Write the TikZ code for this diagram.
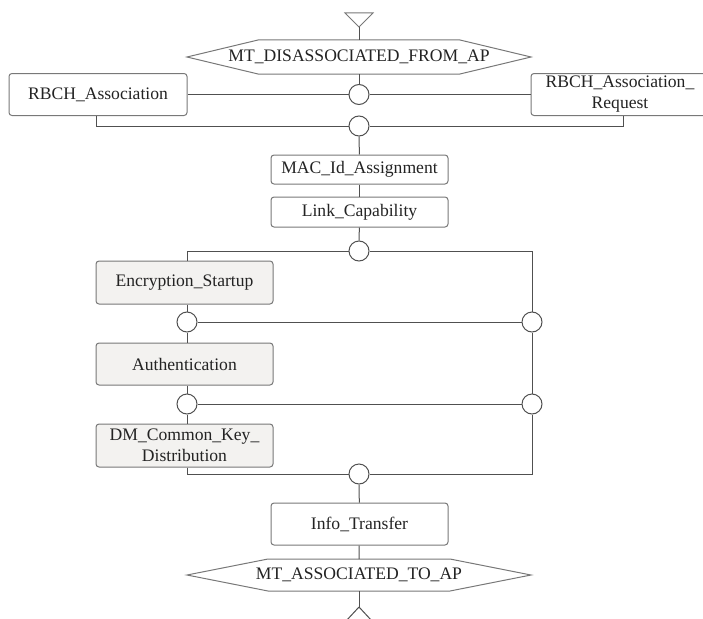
\documentclass[tikz,border=0pt]{standalone}
\usepackage{fontspec}
\setmainfont{Liberation Serif}
\definecolor{linecol}{RGB}{80,80,80}
\definecolor{boxcol}{RGB}{120,120,120}
\definecolor{fillcol}{RGB}{243,242,240}
\definecolor{txtcol}{RGB}{35,35,35}
\newcommand{\fsz}{\fontsize{17.6}{21}\selectfont}
\begin{document}
\begin{tikzpicture}[x=1pt,y=-1pt,
  box/.style={draw=boxcol, rounded corners=3pt, line width=1pt, minimum width=177pt,
    inner sep=0pt, font=\fsz, text=txtcol, align=center},
  gbox/.style={box, fill=fillcol},
  junc/.style={circle, draw=linecol, fill=white, minimum size=20pt, inner sep=0pt, line width=1pt},
  conn/.style={draw=linecol, line width=1pt},
  outl/.style={draw=boxcol, line width=1pt},
  lbl/.style={font=\fsz, text=txtcol, inner sep=0pt}]
\useasboundingbox (0,0) rectangle (703,618);
\clip (0,0) rectangle (703,618);

% start symbol
\coordinate (t1) at (345,13);
\coordinate (t2) at (373,13);
\coordinate (ta) at (359,27);
\draw[outl] (t1) -- (t2) -- (ta) -- cycle;

% hexagon 1
\node[lbl] (h1) at (359,57) {MT\_DISASSOCIATED\_FROM\_AP};
\draw[outl] ([shift={(-172,0)}]h1.center) -- ([shift={(-101,-17)}]h1.center) -- ([shift={(101,-17)}]h1.center)
  -- ([shift={(172,0)}]h1.center) -- ([shift={(101,17)}]h1.center) -- ([shift={(-101,17)}]h1.center) -- cycle;
\coordinate (h1t) at (359,40);
\coordinate (h1b) at (359,74);

% boxes
\node[box, minimum width=178pt, minimum height=42pt] (ra) at (98,94.5) {RBCH\_Association};
\node[box, minimum width=178pt, minimum height=42pt] (rr) at (620,94.5) {RBCH\_Association\_\\Request};
\node[box, minimum height=29pt] (mac) at (359.5,169.5) {MAC\_Id\_Assignment};
\node[box, minimum height=30pt] (link) at (359.5,212) {Link\_Capability};
\node[gbox, minimum height=43pt] (enc) at (184.5,282.5) {Encryption\_Startup};
\node[gbox, minimum height=42pt] (auth) at (184.5,364) {Authentication};
\node[gbox, minimum height=43pt] (dm) at (184.5,445.5) {DM\_Common\_Key\_\\Distribution};
\node[box, minimum height=42pt] (info) at (359.5,524) {Info\_Transfer};

% hexagon 2
\node[lbl] (h2) at (359,575) {MT\_ASSOCIATED\_TO\_AP};
\draw[outl] ([shift={(-172,0)}]h2.center) -- ([shift={(-91,-16)}]h2.center) -- ([shift={(91,-16)}]h2.center)
  -- ([shift={(172,0)}]h2.center) -- ([shift={(91,16)}]h2.center) -- ([shift={(-91,16)}]h2.center) -- cycle;
\coordinate (h2t) at (359,559);
\coordinate (h2b) at (359,591);

% end symbol
\coordinate (by) at (359,607);
\coordinate (bl) at (346,621);
\coordinate (br) at (372,621);

% junctions
\node[junc] (c1) at (359,94.5) {};
\node[junc] (c2) at (359,126) {};
\node[junc] (c3) at (359,251) {};
\node[junc] (c4) at (187,322) {};
\node[junc] (c4r) at (532,322) {};
\node[junc] (c5) at (187,404) {};
\node[junc] (c5r) at (532,404) {};
\node[junc] (c6) at (359,474) {};

% connectors
\draw[conn] (ta) -- (h1t);
\draw[conn] (h1b) -- (c1);
\draw[conn] (ra.east) -- (c1);
\draw[conn] (c1) -- (rr.west);
\draw[conn] ([xshift=-2pt]ra.south) |- (c2);
\draw[conn] ([xshift=3pt]rr.south) |- (c2);
\draw[conn] (c2) -- (mac);
\draw[conn] (mac) -- (link);
\draw[conn] (link) -- (c3);
\draw[conn] (c3) -| (c4 |- enc.north);
\draw[conn] (c3) -| (c4r);
\draw[conn] (c4 |- enc.south) -- (c4);
\draw[conn] (c4) -- (c4r);
\draw[conn] (c4) -- (c4 |- auth.north);
\draw[conn] (c4r) -- (c5r);
\draw[conn] (c5 |- auth.south) -- (c5);
\draw[conn] (c5) -- (c5r);
\draw[conn] (c5) -- (c5 |- dm.north);
\draw[conn] (c5 |- dm.south) |- (c6);
\draw[conn] (c5r) |- (c6);
\draw[conn] (c6) -- (info);
\draw[conn] (info) -- (h2t);
\draw[conn] (h2b) -- (by);
\draw[conn] (by) -- (bl);
\draw[conn] (by) -- (br);
\end{tikzpicture}
\end{document}
